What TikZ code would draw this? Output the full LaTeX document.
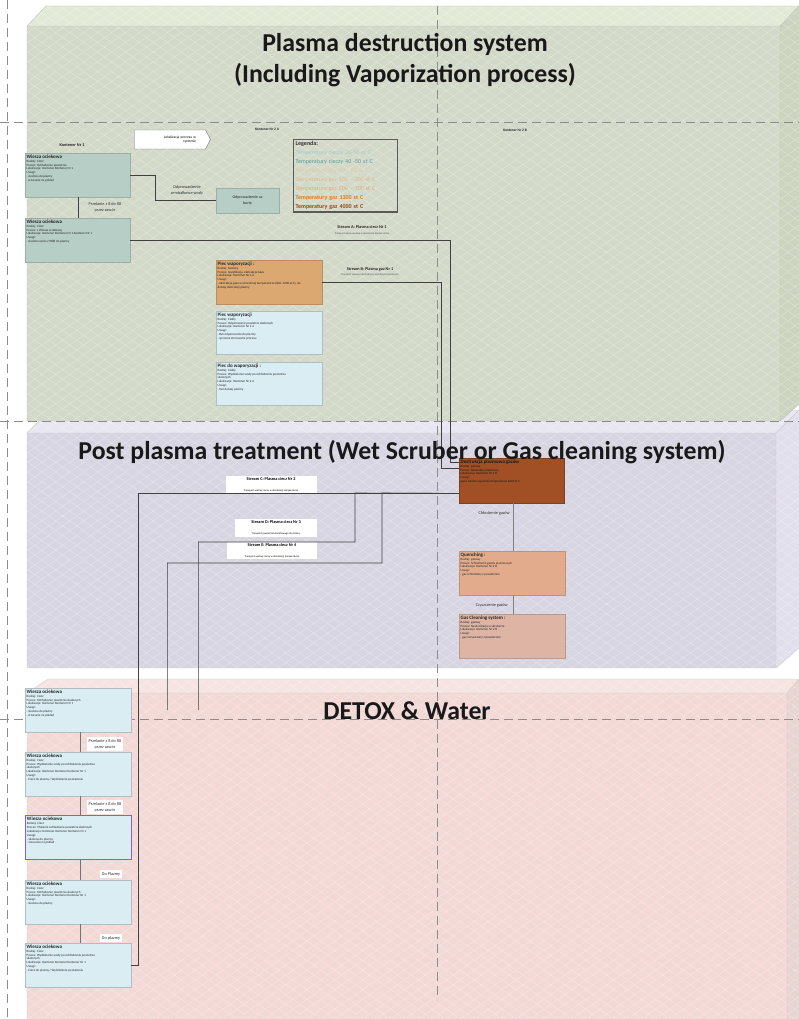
\documentclass[tikz,border=0pt]{standalone}
\usepackage{fontspec}
\setmainfont{Carlito}
\usetikzlibrary{patterns.meta,shapes.symbols,calc}
\definecolor{gfront}{RGB}{211,217,200}
\definecolor{gtop}{RGB}{226,234,214}
\definecolor{gside}{RGB}{204,212,192}
\definecolor{pfront}{RGB}{216,213,226}
\definecolor{ptop}{RGB}{232,230,241}
\definecolor{pside}{RGB}{226,223,236}
\definecolor{rfront}{RGB}{242,217,214}
\definecolor{rtop}{RGB}{246,228,225}
\definecolor{rside}{RGB}{232,212,210}
\definecolor{tealbox}{RGB}{182,206,198}
\definecolor{lbluebox}{RGB}{218,237,243}
\definecolor{piecor}{RGB}{218,168,112}
\definecolor{brownbox}{RGB}{160,80,36}
\definecolor{quenchbox}{RGB}{226,172,140}
\definecolor{gcbox}{RGB}{222,180,164}
\definecolor{purpleedge}{RGB}{140,96,190}
\definecolor{legA}{RGB}{162,202,206}
\definecolor{legB}{RGB}{90,152,156}
\definecolor{legC}{RGB}{232,198,160}
\definecolor{legD}{RGB}{232,182,136}
\definecolor{legE}{RGB}{228,172,118}
\definecolor{legF}{RGB}{226,120,30}
\definecolor{legG}{RGB}{150,70,20}
\newcommand{\mybx}[3]{\parbox[t][#2][t]{#1}{\raggedright #3}}
\newcommand{\bxttl}[1]{{\bfseries\fontsize{5}{5.5}\selectfont #1}}
\newcommand{\hface}[2]{\fill[#1] #2; \fill[hatchA,opacity=.3] #2; \fill[hatchB,opacity=.3] #2;}
\begin{document}
\begin{tikzpicture}[x=1pt,y=-1pt,
  hatchA/.style={pattern={Lines[angle=35,distance=8pt,line width=.5pt]},pattern color=white},
  hatchB/.style={pattern={Lines[angle=-35,distance=8pt,line width=.5pt]},pattern color=white},
  dashline/.style={draw=black!45,line width=.7pt,dash pattern=on 9pt off 5pt},
  title/.style={font=\fontsize{25.8}{30}\selectfont\bfseries,text=black!90,inner sep=0},
  info/.style={anchor=north west,inner sep=1.5pt,font=\fontsize{3.2}{3.9}\selectfont,align=left,text=black!85,line width=.4pt},
  conn/.style={draw=black!75,line width=.6pt},
  lbl/.style={font=\fontsize{4.3}{6}\selectfont,align=center,inner sep=1pt,text=black!80},
  wlbl/.style={lbl,fill=white,inner sep=2pt},
  stitle/.style={font=\fontsize{4.3}{5}\selectfont\bfseries,inner sep=0,text=black!85},
  ssub/.style={font=\fontsize{2.6}{3}\selectfont,inner sep=0,text=black!70},
  sbox/.style={fill=white,inner sep=1pt,align=center}]
\useasboundingbox (0,0) rectangle (799,1019);
\fill[white] (0,0) rectangle (799,1019);
\draw[dashline] (7,0) -- (7,1019);
% pink box
\hface{rtop}{(27,693)--(48,679)--(799,679)--(787,693)--cycle}
\hface{rside}{(787,693)--(799,679)--(799,1019)--(787,1019)--cycle}
\hface{rfront}{(27,693) rectangle (787,1019)}
\draw[draw=black!20,line width=.4pt] (27,693)--(48,679)--(799,679) (27,1019)--(27,693)--(787,693)--(799,679) (787,693)--(787,1019);
% purple box
\hface{ptop}{(27,433)--(50,410)--(799,410)--(776,433)--cycle}
\hface{pside}{(776,433)--(799,410)--(799,648)--(776,668)--cycle}
\hface{pfront}{(27,433) rectangle (776,668)}
\draw[draw=black!20,line width=.4pt] (27,433)--(50,410)--(799,410) (27,433) rectangle (776,668) (776,433)--(799,410) (776,668)--(799,648);
% green box
\hface{gtop}{(27,26)--(46,6)--(799,6)--(780,26)--cycle}
\hface{gside}{(780,26)--(799,6)--(799,404)--(780,421)--cycle}
\hface{gfront}{(27,26) rectangle (780,421)}
\draw[draw=black!25,line width=.4pt] (27,26)--(46,6)--(799,6) (27,26) rectangle (780,421) (780,26)--(799,6) (780,421)--(799,404);
% dashed guide lines
\draw[dashline] (0,122) -- (799,122);
\draw[dashline] (0,421) -- (799,421);
\draw[dashline] (0,719) -- (799,719);
\draw[dashline] (437,6) -- (437,1000);
% ---------- green section ----------
\node[stitle] (kon1) at (72,145) {Kontener Nr 1};
\node[stitle,font=\fontsize{3.6}{4}\selectfont\bfseries] (kon2a) at (267,129) {Kontener Nr 2 A};
\node[stitle,font=\fontsize{3.6}{4}\selectfont\bfseries] (kon2b) at (515,130) {Kontener Nr 2 B};
\node[signal,signal to=east,signal pointer angle=125,draw=black!55,fill=white,minimum width=76,minimum height=19,inner sep=1pt,text width=52pt,align=right,font=\fontsize{3.6}{4.5}\selectfont] (lok) at (170,139.5) {Lokalizacja procesu w\\systemie};
\node[info,fill=tealbox,draw=tealbox!85!black] (w1) at (25,153) {\mybx{102pt}{41pt}{\bxttl{Wiesza ociekowa}\\Rodzaj: Ciecz\\Proces: Ochładzanie powietrza\\Lokalizacja: Kontener Kontener Nr 1\\Uwagi:\\- skażona do plazmy\\- zrzucanie na pokład}};
\node[info,fill=tealbox,draw=tealbox!85!black] (w2) at (25,218) {\mybx{102pt}{41pt}{\bxttl{Wiesza ociekowa}\\Rodzaj: Ciecz\\Proces: z Wiesza ociekowej\\Lokalizacja: Kontener Kontener Nr 1 Kontener Nr 1\\Uwagi:\\- skażona woda z W88 do plazmy}};
\draw[conn] ($(w1.south west)+(53,0)$) -- ($(w2.north west)+(53,0)$);
\node[lbl] (przA) at (105,207) {Przelanie z 8 do 88\\przez zawór};
\node[fill=tealbox,draw=tealbox!85!black,line width=.4pt,minimum width=63,minimum height=25,inner sep=1pt,align=center,font=\fontsize{4}{5.5}\selectfont,text=black!85] (odpr) at (247.5,200.5) {Odprowadzenie za\\burtę};
\draw[conn] (w1.east) -- ++(25,0) |- (odpr.west);
\node[lbl] (odprl) at (187,190) {Odprowadzenie\\zembałkowe wody};
\node[draw=black!65,line width=1.3pt,anchor=north west,inner sep=2pt,text width=100pt,align=left,font=\fontsize{6}{9}\selectfont] (leg) at (293,139) {{\bfseries\color{black!80}Legenda:}\\
{\color{legA}Temperatury cieczy 20-50 st C}\\
{\color{legB}Temperatury cieczy 40 -50 st C}\\
{\color{legC}Temperatury gaz 40 - 60 st C}\\
{\color{legD}Temperatury gaz 100 – 200 st C}\\
{\color{legE}Temperatury gaz 500 – 700 st C}\\
{\color{legF}\bfseries Temperatury gaz  1300 st C}\\
{\color{legG}\bfseries Temperatury gaz 4000 st C}};
\node[stitle] (sa) at (362,227) {Stream A: Plasma  ciecz Nr 1};
\node[ssub] (sas) at (362,234) {Transport cieczy wodnej w określonej temperaturze};
\node[info,fill=piecor,draw=piecor!85!black] (piec1) at (216,260) {\mybx{103pt}{41pt}{\bxttl{Piec waporyzacji :}\\Rodzaj: Gazowy\\Proces: Gazyfikacja, ekstrakcja Gazu\\Lokalizacja: Kontener Nr 2 A\\Uwagi:\\- ekstrakcja gazu w określonej temperaturze (800–1000 st C), do\\dalszej destrukcji plazmy}};
\node[info,fill=lbluebox,draw=lbluebox!80!black] (piec2) at (216,311) {\mybx{103pt}{40pt}{\bxttl{Piec waporyzacji}\\Rodzaj: Ciekły\\Proces: Odparowanie powietrza skażonych\\Lokalizacja: Kontener Nr 2 A\\Uwagi:\\- Bez odparowania do plazmy\\- sprawne sterowanie procesu}};
\node[info,fill=lbluebox,draw=lbluebox!80!black] (piec3) at (216,362) {\mybx{103pt}{40pt}{\bxttl{Piec do waporyzacji :}\\Rodzaj: Ciekły\\Proces: Wydzielanie wody po ochłodzeniu powietrza\\skażonych\\Lokalizacja: Kontener Nr 2 A\\Uwagi:\\- bez dalszej plazmy}};
\node[stitle] (sb) at (370,269) {Stream B: Plasma gaz Nr 1};
\node[ssub] (sbs) at (370,275) {Transport czasowy destrukcji w wysokiej temperaturze};
% ---------- purple section ----------
\node[info,fill=brownbox,draw=brownbox!80!black,text=black!90] (brown) at (459,458) {\mybx{102pt}{42pt}{\bxttl{Destrukcja plazmowa gazów}\\Rodzaj: gazowy\\Proces: Destrukcja plazmowa\\Lokalizacja: Kontener Nr 2 B\\Uwagi:\\gaz o bardzo wysokiej temperaturze 4000 st C}};
\draw[conn] (w2.east) -| ($(brown.north west)+(-9,4)$) -- ($(brown.north west)+(0,4)$);
\draw[conn] (piec1.east) -| ($(brown.north west)+(-18,10)$) -- ($(brown.north west)+(0,10)$);
\node[info,fill=quenchbox,draw=quenchbox!85!black] (quench) at (459,551) {\mybx{103pt}{41pt}{\bxttl{Quenching :}\\Rodzaj: gazowy\\Proces: Schładzanie gazów plazmowych\\Lokalizacja: Kontener Nr 2 B\\Uwagi:\\- gaz schłodzony z powietrzem}};
\node[info,fill=gcbox,draw=gcbox!85!black] (gascl) at (459,614) {\mybx{103pt}{41pt}{\bxttl{Gas Cleaning system :}\\Rodzaj: gazowy\\Proces: Neutralizacja w skruberze\\Lokalizacja: Kontener Nr 2 B\\Uwagi:\\- gaz oczyszczony z powietrzem}};
\draw[conn,draw=black!50] ($(brown.south west)+(54,0)$) -- ($(quench.north west)+(54,0)$);
\draw[conn,draw=black!50] ($(quench.south west)+(54,0)$) -- ($(gascl.north west)+(54,0)$);
\node[lbl,anchor=east] (chl) at (511,513) {Chłodzenie gazów};
\node[lbl,anchor=east] (czy) at (509,605) {Czyszczenie gazów};
\node[sbox,minimum width=91,minimum height=15] (sc) at (271,484.5) {\mbox{\fontsize{4.3}{5}\selectfont\bfseries Stream C: Plasma ciecz Nr 2}\\[-1pt]\mbox{\fontsize{2.6}{3}\selectfont Transport wodnej cieczy w określonej temperaturze}};
\node[sbox,minimum width=82,minimum height=18] (sd) at (276,528) {\mbox{\fontsize{4.3}{5}\selectfont\bfseries Stream D: Plasma ciecz  Nr 3}\\[-1pt]\mbox{\fontsize{2.6}{3}\selectfont Transport powietrza komórkowego do plazmy}};
\node[sbox,minimum width=90,minimum height=15] (se) at (272,550.5) {\mbox{\fontsize{4.3}{5}\selectfont\bfseries Stream E: Plasma ciecz Nr 4}\\[-1pt]\mbox{\fontsize{2.6}{3}\selectfont Transport wodnej cieczy w określonej temperaturze}};
% ---------- pink section ----------
\node[info,fill=lbluebox,draw=lbluebox!80!black] (b1) at (25,688) {\mybx{103pt}{41pt}{\bxttl{Wiesza ociekowa}\\Rodzaj: Ciecz\\Proces: Ochładzanie powietrza skażonych\\Lokalizacja: Kontener Kontener Nr 1\\Uwagi:\\- skażona do plazmy\\- zrzucanie na pokład}};
\node[info,fill=lbluebox,draw=lbluebox!80!black] (b2) at (25,752) {\mybx{103pt}{41pt}{\bxttl{Wiesza ociekowa}\\Rodzaj: Ciecz\\Proces: Wydzielanie wody po ochłodzeniu powietrza\\skażonych\\Lokalizacja: Kontener Kontener  Kontener Nr 1\\Uwagi:\\- Ciecz do plazmy / Wydzielanie po skażeniu}};
\node[info,fill=lbluebox,draw=purpleedge,line width=1pt] (b3) at (25,815) {\mybx{103pt}{41pt}{\bxttl{Wiesza ociekowa}\\Rodzaj: Ciecz\\Proces: Płukanie ochładzanie powietrza skażonych\\Lokalizacja: Kontener Kontener Kontener Nr 1\\Uwagi:\\- skażona do plazmy\\- zrzucanie na pokład}};
\node[info,fill=lbluebox,draw=lbluebox!80!black] (b4) at (25,880) {\mybx{103pt}{41pt}{\bxttl{Wiesza ociekowa}\\Rodzaj: Ciecz\\Proces: Ochładzanie powietrza skażonych\\Lokalizacja: Kontener Kontener Kontener Nr 1\\Uwagi:\\- skażona do plazmy}};
\node[info,fill=lbluebox,draw=lbluebox!80!black] (b5) at (25,943) {\mybx{103pt}{41pt}{\bxttl{Wiesza ociekowa}\\Rodzaj: Ciecz\\Proces: Wydzielanie wody po ochłodzeniu powietrza\\skażonych\\Lokalizacja: Kontener Kontener  Kontener Nr 1\\Uwagi:\\- Ciecz do plazmy / Wydzielanie po skażeniu}};
\draw[conn,draw=black!55] ($(b1.south west)+(55,0)$) -- ($(b2.north west)+(55,0)$);
\draw[conn,draw=black!55] ($(b2.south west)+(55,0)$) -- ($(b3.north west)+(55,0)$);
\draw[conn,draw=black!55] ($(b3.south west)+(55,0)$) -- ($(b4.north west)+(55,0)$);
\draw[conn,draw=black!55] ($(b4.south west)+(55,0)$) -- ($(b5.north west)+(55,0)$);
\node[wlbl] (prz1) at (105,744) {Przelanie z 8 do 88\\przez zawór};
\node[wlbl] (prz2) at (105,807) {Przelanie z 8 do 88\\przez zawór};
\node[wlbl] (dopl1) at (111,874) {Do Plazmy};
\node[wlbl] (dopl2) at (111,938) {Do plazmy};
% streams C, D, E
\draw[conn] ($(brown.south west)+(0,-10)$) -| ($(b5.east)+(7,0)$) -- (b5.east);
\draw[conn] ($(brown.south west)+(0,-10)$) -- (355,493) -- (355,542) -| ($(b1.east)+(67,0)$);
\draw[conn] ($(brown.south west)+(0,-10)$) -- (382,493) -- (382,563) -| ($(b1.east)+(36,0)$);
% titles (drawn on top)
\node[title] (t1) at (405,44) {Plasma destruction system};
\node[title] (t2) at (405,75) {(Including Vaporization process)};
\node[title] (t3) at (402,452) {Post plasma treatment (Wet Scruber or Gas cleaning system)};
\node[title] (t4) at (407,711) {DETOX \& Water};
\end{tikzpicture}
\end{document}
